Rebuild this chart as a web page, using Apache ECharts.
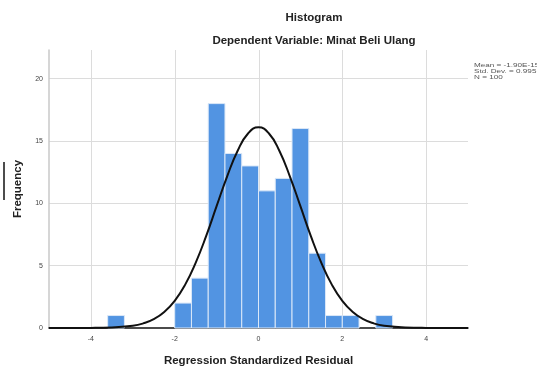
<!DOCTYPE html>
<html><head><meta charset="utf-8">
<script src="https://cdn.jsdelivr.net/npm/echarts@6/dist/echarts.min.js"></script>
<style>html,body{margin:0;padding:0;background:#fff}#c{width:537px;height:369px}</style>
</head><body><div id="c"></div>
<script>
// Histogram bins: [start, end]
const binStart = [-3.6, -2.0, -1.6, -1.2, -0.8, -0.4, 0.0, 0.4, 0.8, 1.2, 1.6, 2.0, 2.8];
const binEnd   = [-3.2, -1.6, -1.2, -0.8, -0.4, 0.0, 0.4, 0.8, 1.2, 1.6, 2.0, 2.4, 3.2];
const frequency = [1, 2, 4, 18, 14, 13, 11, 12, 16, 6, 1, 1, 1];
// Normal curve
const curveX = [-5, -4, -3.5, -3, -2.75, -2.5, -2.25, -2, -1.75, -1.5, -1.25, -1, -0.75, -0.5, -0.25, 0,
                0.25, 0.5, 0.75, 1, 1.25, 1.5, 1.75, 2, 2.25, 2.5, 2.75, 3, 3.5, 4, 5];
const curveY = [0, 0.01, 0.04, 0.18, 0.37, 0.71, 1.28, 2.18, 3.48, 5.23, 7.37, 9.77, 12.15, 14.2, 15.6, 16.1,
                15.6, 14.2, 12.15, 9.77, 7.37, 5.23, 3.48, 2.18, 1.28, 0.71, 0.37, 0.18, 0.04, 0.01, 0];
const xGridTicks = [-4, -2, 0, 2, 4];
const xLabels = ['-4', '-2', '0', '2', '4'];
const yTicks = [0, 5, 10, 15, 20];
const statsText = ['Mean = -1.90E-15', 'Std. Dev. = 0.995', 'N = 100'];

const chart = echarts.init(document.getElementById('c'), null, {renderer: 'canvas'});
const font = 'Liberation Sans, Arial, sans-serif';

const option = {
  animation: false,
  title: [
    {text: 'Histogram', left: 314, top: 12, textAlign: 'center', padding: 0,
     textStyle: {fontFamily: font, fontSize: 11.5, fontWeight: 'bold', color: '#222'}},
    {text: 'Dependent Variable: Minat Beli Ulang', left: 314, top: 35, textAlign: 'center', padding: 0,
     textStyle: {fontFamily: font, fontSize: 11.5, fontWeight: 'bold', color: '#222'}}
  ],
  grid: {left: 49, right: 69, top: 50, bottom: 41, containLabel: false, outerBoundsMode: 'none'},
  xAxis: {
    type: 'value', min: -5, max: 5, interval: 1,
    name: 'Regression Standardized Residual', nameLocation: 'middle', nameGap: 27,
    nameTextStyle: {fontFamily: font, fontSize: 11.5, fontWeight: 'bold', color: '#222'},
    axisLine: {show: true, onZero: false, lineStyle: {color: '#111', width: 1.5}},
    axisTick: {show: false},
    splitLine: {show: false},
    axisLabel: {fontFamily: font, fontSize: 7, color: '#444', margin: 8,
      formatter: v => { const i = xGridTicks.indexOf(v); return i >= 0 ? xLabels[i] : ''; }}
  },
  yAxis: {
    type: 'value', min: 0, max: 22.3, interval: 5,
    name: 'Frequency', nameLocation: 'middle', nameGap: 25,
    nameTextStyle: {fontFamily: font, fontSize: 11.5, fontWeight: 'bold', color: '#222'},
    axisLine: {show: true, onZero: false, lineStyle: {color: '#c8c8c8', width: 1.5}},
    axisTick: {show: false},
    splitLine: {show: true, showMaxLine: false, showMinLine: false, lineStyle: {color: '#dcdcdc', width: 1}},
    axisLabel: {fontFamily: font, fontSize: 7, color: '#444', margin: 6, showMaxLabel: false,
      formatter: v => yTicks.indexOf(v) >= 0 ? String(v) : ''}
  },
  series: [
    {
      type: 'custom', silent: true, z: 0,
      data: xGridTicks.map(v => [v]),
      encode: {x: 0},
      renderItem: function (params, api) {
        const p = api.coord([api.value(0), 0]);
        const top = params.coordSys.y;
        return {
          type: 'line',
          shape: {x1: Math.round(p[0]) + 0.5, y1: top, x2: Math.round(p[0]) + 0.5, y2: p[1]},
          style: {stroke: '#dcdcdc', lineWidth: 1}
        };
      }
    },
    {
      type: 'custom', z: 3,
      data: binStart.map((s, i) => [s, binEnd[i], frequency[i]]),
      encode: {x: [0, 1], y: 2},
      renderItem: function (params, api) {
        const p0 = api.coord([api.value(0), api.value(2)]);
        const p1 = api.coord([api.value(1), 0]);
        return {
          type: 'rect',
          shape: {x: p0[0], y: p0[1], width: p1[0] - p0[0], height: p1[1] - p0[1]},
          style: {fill: '#5294e2', stroke: '#dbe8f8', lineWidth: 1}
        };
      }
    },
    {
      type: 'line', smooth: true, symbol: 'none', z: 5,
      data: curveX.map((x, i) => [x, curveY[i]]),
      lineStyle: {color: '#111', width: 2}
    }
  ],
  graphic: [
    {type: 'text', x: 474, y: 63, scaleX: 1.25, scaleY: 0.85,
     style: {text: statsText.join('\n'), fontFamily: font, fontSize: 6.5, lineHeight: 6.6, fill: '#555'}},
    {type: 'line', shape: {x1: 4, y1: 162, x2: 4, y2: 200}, style: {stroke: '#111', lineWidth: 1.5}}
  ]
};
chart.setOption(option);
</script>
</body></html>
